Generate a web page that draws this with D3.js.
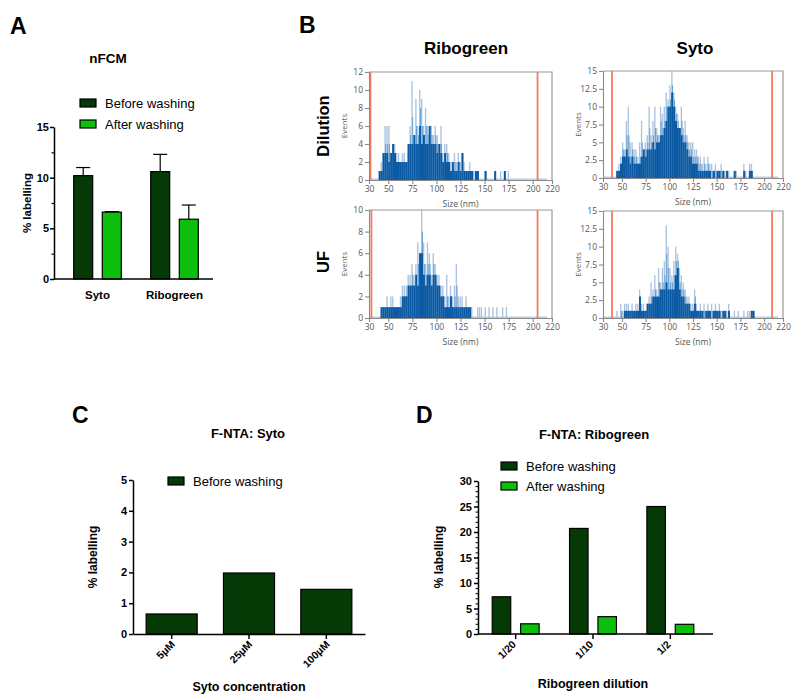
<!DOCTYPE html>
<html><head><meta charset="utf-8">
<script src="https://cdn.jsdelivr.net/npm/d3@7"></script>
<style>body{margin:0;background:#fff}svg{display:block}</style>
</head><body>
<svg id="fig" width="797" height="700"></svg>
<script>
// ---------- DATA ----------
// Panel A (nFCM)
const catsA = ["Syto", "Ribogreen"];
const beforeA = [10.2, 10.6];
const afterA = [6.6, 5.9];
const errBeforeA = [0.8, 1.7];
const errAfterA = [0.05, 1.4];
const ticksA = [0, 5, 10, 15];

// Panel B histograms: bins of 2 nm starting at 40 nm
const binStart = 40, binWidth = 2;
const h1Light = [1,2,3,6,6,6,3,3,4,3, 3,2,3,3,2,3,6,11,4,9, 6,10,9,6,8,6,6,6,5,6, 5,4,6,3,4,4,3,2,2,3, 2,3,2,3,2,1,1,2,1,1, 1,1,0,0,0,1,0,0,0,0, 1,0,0,1,0,1,0,1,0,0, 0,0,0,0,0,0];
const h1Dark  = [1,1,3,3,3,2,3,4,3,2, 2,2,2,2,2,4,4,4,5,4, 4,6,4,5,4,4,6,4,4,4, 3,4,3,2,3,2,2,1,2,1, 1,2,1,3,1,1,1,1,1,0, 1,1,0,0,0,1,0,0,0,0, 1,0,0,0,0,1,0,0,0,0, 0,0,0,0,0,0];
const h2Light = [0,0,1,2,3,5,4,8,10,5, 5,4,4,3,5,8,4,5,6,10, 6,8,10,7,6,10,9,10,12,11, 13,15,12,10,9,7,10,7,8,6, 5,5,5,4,4,3,3,2,3,2, 3,2,2,1,2,1,1,2,1,1, 1,1,0,0,1,1,0,0,0,2, 1,0,2,2,0,0];
const h2Dark  = [0,0,1,1,2,3,3,4,3,2, 3,2,2,2,2,3,4,3,4,4, 4,5,4,5,5,6,6,7,8,10, 10,12,10,8,7,7,6,5,5,4, 3,3,2,2,2,1,1,1,1,1, 1,1,0,1,0,1,1,0,1,0, 1,0,0,0,1,0,0,0,0,1, 0,0,1,1,0,0];
const h3Light = [0,1,1,1,2,1,2,2,1,1, 1,2,3,3,3,4,4,5,4,5, 7,6,10,7,5,7,6,4,6,5, 4,4,3,3,2,4,2,3,2,3, 5,2,2,2,1,2,1,1,1,0, 0,1,1,1,0,1,0,1,0,1, 0,1,0,0,1,0,1,0,0,0, 0,0,0,0,0,0];
const h3Dark  = [0,1,1,1,1,1,1,1,1,1, 1,1,2,2,2,3,3,3,3,4, 3,6,6,4,3,4,4,3,4,4, 3,3,2,2,1,1,1,2,1,1, 1,1,1,1,1,1,1,1,0,0, 0,0,0,0,0,0,0,0,0,0, 0,0,0,0,0,0,0,0,0,0, 0,0,0,0,0,0];
const h4Light = [0,0,1,0,2,1,2,2,2,1, 2,1,2,2,4,2,2,1,2,3, 5,4,6,4,7,5,7,8,13,10, 7,6,8,10,9,7,6,5,4,3, 3,2,2,4,2,1,2,1,2,1, 2,1,2,1,2,1,2,1,1,1, 1,2,0,0,1,0,1,0,0,1, 0,1,1,1,0,0];
const h4Dark  = [0,0,0,0,0,0,1,1,1,1, 1,1,1,1,3,1,1,1,2,2, 2,3,3,3,3,4,4,4,5,4, 4,4,4,6,7,4,3,3,2,2, 2,1,1,2,1,1,1,1,0,1, 1,1,0,1,1,1,1,0,1,1, 0,1,0,0,0,0,0,0,0,0, 0,0,0,1,1,0];
const sizeTicks = [30, 50, 75, 100, 125, 150, 175, 200, 220];

// Panel C (F-NTA: Syto)
const catsC = ["5\u03BCM", "25\u03BCM", "100\u03BCM"];
const valsC = [0.65, 1.98, 1.45];
const ticksC = [0, 1, 2, 3, 4, 5];

// Panel D (F-NTA: Ribogreen)
const catsD = ["1/20", "1/10", "1/2"];
const beforeD = [7.3, 20.7, 25.0];
const afterD = [2.0, 3.4, 1.9];
const ticksD = [0, 5, 10, 15, 20, 25, 30];

// ---------- STYLE ----------
const DARK = "#053a06", LIGHT = "#0dbf0d";
const FONT = "'Liberation Sans', Arial, sans-serif";
const HFONT = "'Open Sans', 'Noto Sans', sans-serif";
const svg = d3.select("#fig");
svg.append("rect").attr("width", 797).attr("height", 700).attr("fill", "#fff");

function txt(x, y, s, opts = {}) {
  const t = svg.append("text").attr("x", x).attr("y", y).text(s)
    .attr("font-family", opts.family || FONT)
    .attr("font-size", opts.size || 12)
    .attr("font-weight", opts.weight || "normal")
    .attr("fill", opts.fill || "#000")
    .attr("text-anchor", opts.anchor || "start");
  if (opts.rotate) t.attr("transform", `rotate(${opts.rotate},${x},${y})`);
  return t;
}
function styleAxis(g, w) {
  g.selectAll("path,line").attr("stroke", "#000").attr("stroke-width", w || 1.5);
  g.selectAll("text").attr("font-family", FONT).attr("font-weight", "bold").attr("font-size", 11).attr("fill", "#000");
}
function legend(x, y, color, label) {
  svg.append("rect").attr("x", x).attr("y", y).attr("width", 16).attr("height", 8)
    .attr("fill", color).attr("stroke", "#000").attr("stroke-width", 1.2);
  txt(x + 25, y + 9, label, { size: 13 });
}
const intFmt = d3.format("d");

// ---------- PANEL LETTERS ----------
txt(10, 34, "A", { size: 23, weight: "bold" });
txt(299, 33, "B", { size: 23, weight: "bold" });
txt(72, 423, "C", { size: 23, weight: "bold" });
txt(416, 423, "D", { size: 23, weight: "bold" });

// ---------- PANEL A ----------
{
  const y = d3.scaleLinear().domain([0, 15]).range([279, 127]);
  const x = d3.scaleBand().domain(catsA).range([59, 213]);
  const bw = 19, off = 14.3;
  txt(108, 63, "nFCM", { size: 13.5, weight: "bold", anchor: "middle" });
  legend(80, 99, DARK, "Before washing");
  legend(80, 120, LIGHT, "After washing");
  const g = svg.append("g");
  catsA.forEach((c, i) => {
    const cx = x(c) + x.bandwidth() / 2;
    [[beforeA[i], errBeforeA[i], DARK, -off], [afterA[i], errAfterA[i], LIGHT, off]].forEach(([v, e, col, o]) => {
      const bx = cx + o;
      g.append("line").attr("x1", bx).attr("x2", bx).attr("y1", y(v)).attr("y2", y(v + e)).attr("stroke", "#000").attr("stroke-width", 1.2);
      g.append("line").attr("x1", bx - 7).attr("x2", bx + 7).attr("y1", y(v + e)).attr("y2", y(v + e)).attr("stroke", "#000").attr("stroke-width", 1.2);
      g.append("rect").attr("x", bx - bw / 2).attr("y", y(v)).attr("width", bw).attr("height", y(0) - y(v))
        .attr("fill", col).attr("stroke", "#000").attr("stroke-width", 1.2);
    });
  });
  const ya = svg.append("g").attr("transform", "translate(54,0)")
    .call(d3.axisLeft(y).tickValues(ticksA).tickSize(4).tickSizeOuter(0).tickPadding(1).tickFormat(intFmt));
  styleAxis(ya);
  const ym = svg.append("g").attr("transform", "translate(54,0)")
    .call(d3.axisLeft(y).tickValues([2.5, 7.5, 12.5]).tickSize(2.5).tickFormat(""));
  ym.select(".domain").remove(); styleAxis(ym, 1.2);
  const xa = svg.append("g").attr("transform", "translate(0,279)")
    .call(d3.axisBottom(x).tickSize(0).tickPadding(12));
  xa.select(".domain").attr("d", "M54,0H213");
  styleAxis(xa);
  xa.selectAll("text").attr("font-size", 11.5);
  txt(31, 203, "% labelling", { size: 11.5, weight: "bold", anchor: "middle", rotate: -90 });
}

// ---------- PANEL B ----------
txt(466, 54, "Ribogreen", { size: 17, weight: "bold", anchor: "middle" });
txt(695, 54, "Syto", { size: 17, weight: "bold", anchor: "middle" });
txt(329, 126, "Dilution", { size: 16.5, weight: "bold", anchor: "middle", rotate: -90 });
txt(329, 262, "UF", { size: 16.5, weight: "bold", anchor: "middle", rotate: -90 });

function histogram(cfg) {
  const { x0, x1, yb, yt, ymax, ticks, light, dark, gates, fmt } = cfg;
  const xs = d3.scaleLinear().domain([30, 220]).range([x0, x1]);
  const ys = d3.scaleLinear().domain([0, ymax]).range([yb, yt]);
  const g = svg.append("g");
  g.append("rect").attr("x", xs(30)).attr("y", ys(0) - 1.5).attr("width", xs(215) - xs(30)).attr("height", 1.5).attr("fill", "#b9cfe6");
  light.forEach((v, i) => {
    if (!v) return;
    const b = binStart + i * binWidth;
    g.append("rect").attr("x", xs(b)).attr("y", ys(v)).attr("width", Math.max(0.8, (xs(b + binWidth) - xs(b)) * 0.7))
      .attr("height", ys(0) - ys(v)).attr("fill", "#a9c3e0");
  });
  light.forEach((v, i) => {
    if (!v) return;
    const b = binStart + i * binWidth + 1;
    const dv = Math.max(dark[i], Math.round((v + dark[i]) / 2 - 0.5));
    g.append("rect").attr("x", xs(b)).attr("y", ys(dv)).attr("width", 0.8)
      .attr("height", ys(0) - ys(dv)).attr("fill", "#4a92cc");
  });
  dark.forEach((v, i) => {
    if (!v) return;
    const b = binStart + i * binWidth;
    g.append("rect").attr("x", xs(b)).attr("y", ys(v)).attr("width", xs(b + binWidth) - xs(b) + 0.05)
      .attr("height", ys(0) - ys(v)).attr("fill", "#0b5aa3");
  });
  gates.forEach(gv => {
    g.append("line").attr("x1", xs(gv)).attr("x2", xs(gv)).attr("y1", yt).attr("y2", yb)
      .attr("stroke", "#f47a5c").attr("stroke-width", 1.8);
  });
  g.append("path").attr("d", `M${x0},${yt}H${x1}V${yb}`).attr("fill", "none").attr("stroke", "#9a9a9a").attr("stroke-width", 1.2);
  const ya = svg.append("g").attr("transform", `translate(${x0},0)`)
    .call(d3.axisLeft(ys).tickValues(ticks).tickSize(4).tickSizeOuter(0).tickPadding(2).tickFormat(d3.format("")));
  const xa = svg.append("g").attr("transform", `translate(0,${yb})`)
    .call(d3.axisBottom(xs).tickValues(sizeTicks).tickSize(4).tickSizeOuter(0).tickPadding(2));
  [ya, xa].forEach(a => {
    a.selectAll("path,line").attr("stroke", "#8a8a8a").attr("stroke-width", 1.1);
    a.selectAll("text").attr("font-family", HFONT).attr("font-size", 8.5).attr("fill", "#555");
  });
  txt(x0 - 22, (yt + yb) / 2, "Events", { family: HFONT, size: 8, fill: "#666", anchor: "middle", rotate: -90 });
  txt((x0 + x1) / 2, yb + 27, "Size (nm)", { family: HFONT, size: 8.5, fill: "#555", anchor: "middle" });
}
histogram({ x0: 369, x1: 552, yb: 180, yt: 72, ymax: 12, ticks: [0, 2, 4, 6, 8, 10, 12], light: h1Light, dark: h1Dark, gates: [31.5, 205] });
histogram({ x0: 603, x1: 783, yb: 178, yt: 71, ymax: 15, ticks: [0, 2.5, 5, 7.5, 10, 12.5, 15], light: h2Light, dark: h2Dark, gates: [39.5, 208.5] });
histogram({ x0: 369, x1: 552, yb: 318, yt: 210, ymax: 10, ticks: [0, 2, 4, 6, 8, 10], light: h3Light, dark: h3Dark, gates: [32.5, 205] });
histogram({ x0: 603, x1: 783, yb: 318, yt: 211, ymax: 15, ticks: [0, 2.5, 5, 7.5, 10, 12.5, 15], light: h4Light, dark: h4Dark, gates: [39.5, 208.5] });

// ---------- PANEL C ----------
{
  const y = d3.scaleLinear().domain([0, 5]).range([634, 480]);
  const x = d3.scaleBand().domain(catsC).range([133, 365]).paddingInner(0.34).paddingOuter(0.17);
  txt(248, 438, "F-NTA: Syto", { size: 13, weight: "bold", anchor: "middle" });
  legend(168, 477, DARK, "Before washing");
  catsC.forEach((c, i) => {
    svg.append("rect").attr("x", x(c)).attr("y", y(valsC[i])).attr("width", x.bandwidth()).attr("height", y(0) - y(valsC[i]))
      .attr("fill", DARK).attr("stroke", "#000").attr("stroke-width", 1.2);
  });
  const ya = svg.append("g").attr("transform", "translate(133,0)")
    .call(d3.axisLeft(y).tickValues(ticksC).tickSize(4).tickSizeOuter(0).tickPadding(2).tickFormat(intFmt));
  styleAxis(ya);
  const xa = svg.append("g").attr("transform", "translate(0,634)")
    .call(d3.axisBottom(x).tickSize(5).tickSizeOuter(0).tickFormat(""));
  styleAxis(xa);
  catsC.forEach(c => {
    const cx = x(c) + x.bandwidth() / 2;
    txt(cx + 4, 645, c, { size: 10.5, weight: "bold", anchor: "end", rotate: -45 });
  });
  txt(97, 557, "% labelling", { size: 12, weight: "bold", anchor: "middle", rotate: -90 });
  txt(249, 691, "Syto concentration", { size: 12.5, weight: "bold", anchor: "middle" });
}

// ---------- PANEL D ----------
{
  const y = d3.scaleLinear().domain([0, 30]).range([634, 481]);
  const x = d3.scaleBand().domain(catsD).range([477, 709]);
  const bw = 18.5, off = 14.2;
  txt(594, 439, "F-NTA: Ribogreen", { size: 13, weight: "bold", anchor: "middle" });
  legend(501, 462, DARK, "Before washing");
  legend(501, 482, LIGHT, "After washing");
  catsD.forEach((c, i) => {
    const cx = x(c) + x.bandwidth() / 2;
    [[beforeD[i], DARK, -off], [afterD[i], LIGHT, off]].forEach(([v, col, o]) => {
      svg.append("rect").attr("x", cx + o - bw / 2).attr("y", y(v)).attr("width", bw).attr("height", y(0) - y(v))
        .attr("fill", col).attr("stroke", "#000").attr("stroke-width", 1.2);
    });
  });
  const ya = svg.append("g").attr("transform", "translate(478,0)")
    .call(d3.axisLeft(y).tickValues(ticksD).tickSize(4).tickSizeOuter(0).tickPadding(2).tickFormat(intFmt));
  styleAxis(ya);
  const minor = d3.range(0, 31).filter(v => v % 5 !== 0);
  const ym = svg.append("g").attr("transform", "translate(478,0)")
    .call(d3.axisLeft(y).tickValues(minor).tickSize(2.5).tickFormat(""));
  ym.select(".domain").remove(); styleAxis(ym, 1);
  const xa = svg.append("g").attr("transform", "translate(0,634)")
    .call(d3.axisBottom(x).tickSize(5).tickSizeOuter(0).tickFormat(""));
  xa.select(".domain").attr("d", "M478,0H713");
  styleAxis(xa);
  catsD.forEach(c => {
    const cx = x(c) + x.bandwidth() / 2;
    txt(cx + 1, 645, c, { size: 10.5, weight: "bold", anchor: "end", rotate: -45 });
  });
  txt(443, 557, "% labelling", { size: 12, weight: "bold", anchor: "middle", rotate: -90 });
  txt(593, 688, "Ribogreen dilution", { size: 12.5, weight: "bold", anchor: "middle" });
}
</script>
</body></html>
